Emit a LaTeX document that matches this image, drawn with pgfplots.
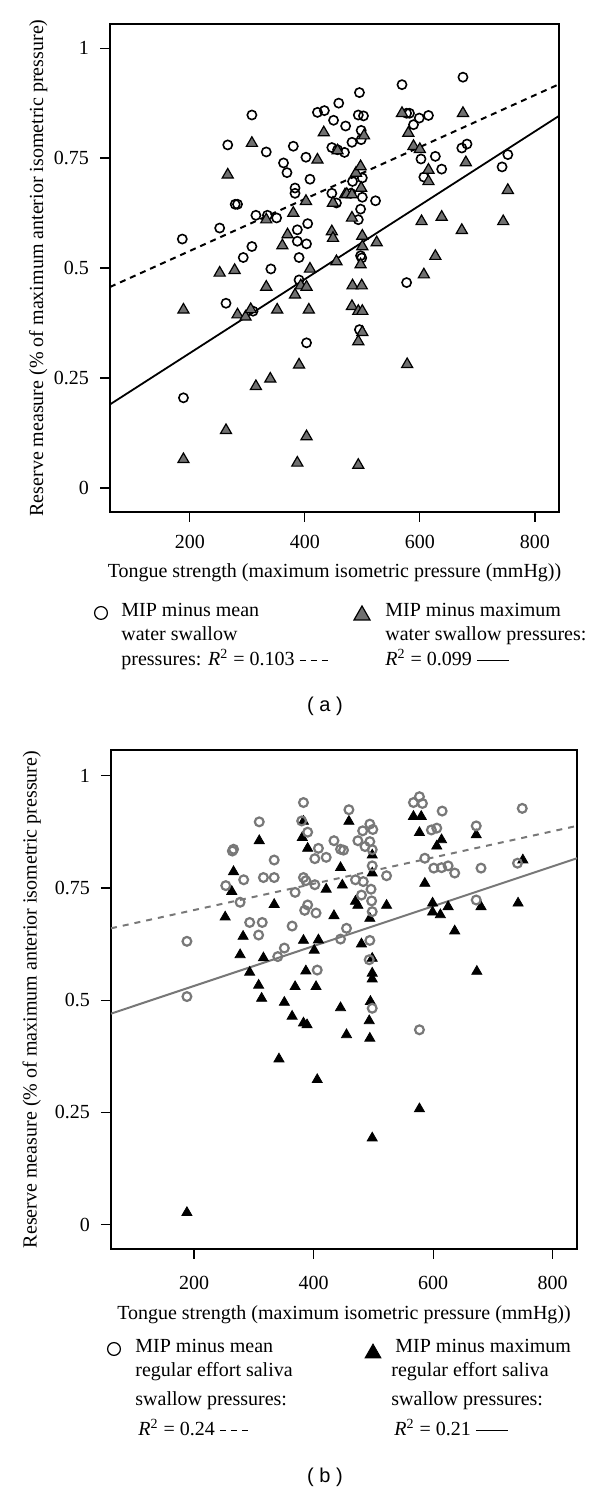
\documentclass[border=0pt]{standalone}
\usepackage{fontspec}
\setmainfont{Liberation Serif}
\newfontfamily\capfont{Liberation Sans}
\usepackage{pgfplots}
\usepackage{pgfplotstable}
\pgfplotsset{compat=1.18}
\definecolor{tgray}{RGB}{112,112,112}
\definecolor{bgray}{RGB}{120,120,120}

\pgfplotstableread{
x y
187 0.566
252 0.591
266 0.780
263 0.420
279 0.645
283 0.645
293 0.524
308 0.549
308 0.848
315 0.620
310 0.402
333 0.764
335 0.620
341 0.498
351 0.614
363 0.739
369 0.717
380 0.777
383 0.682
383 0.670
387 0.587
387 0.561
390 0.524
390 0.473
402 0.752
409 0.702
405 0.601
403 0.555
403 0.330
422 0.854
434 0.858
450 0.836
459 0.875
447 0.774
457 0.769
469 0.763
471 0.823
447 0.670
455 0.648
480 0.670
482 0.786
495 0.899
493 0.848
502 0.846
498 0.813
498 0.792
483 0.697
500 0.705
500 0.661
497 0.634
493 0.610
497 0.528
499 0.523
523 0.653
569 0.917
577 0.852
582 0.852
589 0.826
599 0.841
615 0.847
602 0.748
627 0.754
607 0.707
638 0.725
577 0.467
675 0.934
673 0.773
682 0.782
743 0.730
753 0.758
495 0.360
189 0.205
}\circA

\pgfplotstableread{
x y
189 0.405
252 0.489
278 0.495
266 0.712
308 0.784
283 0.394
297 0.389
306 0.406
333 0.457
333 0.610
352 0.405
361 0.551
370 0.576
380 0.625
383 0.439
393 0.460
403 0.457
407 0.405
402 0.652
409 0.498
422 0.746
433 0.808
447 0.583
449 0.568
455 0.515
449 0.648
457 0.767
470 0.667
473 0.668
482 0.614
482 0.667
489 0.716
497 0.731
498 0.682
500 0.573
500 0.549
497 0.508
483 0.460
499 0.460
482 0.413
493 0.402
500 0.402
500 0.354
493 0.333
525 0.558
503 0.801
569 0.852
580 0.807
589 0.777
600 0.770
615 0.723
615 0.697
603 0.606
638 0.616
627 0.527
607 0.485
675 0.852
680 0.740
673 0.586
745 0.606
753 0.677
578 0.281
390 0.280
340 0.248
315 0.231
263 0.131
403 0.117
189 0.065
387 0.057
493 0.052
}\triA

\pgfplotstableread{
x y
188 0.631
188 0.508
253 0.755
264 0.832
266 0.836
283 0.768
277 0.718
293 0.673
308 0.645
314 0.673
309 0.897
316 0.773
334 0.773
334 0.812
340 0.597
351 0.616
364 0.665
369 0.740
383 0.940
380 0.899
390 0.874
383 0.773
387 0.766
390 0.712
385 0.700
404 0.694
402 0.757
402 0.815
408 0.838
421 0.818
406 0.567
434 0.855
445 0.836
450 0.834
459 0.924
445 0.636
455 0.660
470 0.768
474 0.855
482 0.877
486 0.842
494 0.892
499 0.880
494 0.853
498 0.835
480 0.734
483 0.764
498 0.799
496 0.747
497 0.721
498 0.697
494 0.633
493 0.590
498 0.482
522 0.777
567 0.940
577 0.953
582 0.938
615 0.921
597 0.879
606 0.883
586 0.816
601 0.794
614 0.795
625 0.799
636 0.783
577 0.434
672 0.888
680 0.794
672 0.723
741 0.805
749 0.927
}\circB

\pgfplotstableread{
x y
188 0.027
252 0.685
263 0.742
266 0.786
282 0.642
277 0.601
293 0.562
308 0.533
313 0.504
316 0.594
309 0.855
334 0.713
342 0.369
351 0.495
364 0.464
369 0.530
383 0.449
389 0.445
387 0.565
383 0.633
381 0.862
390 0.838
383 0.898
401 0.611
408 0.634
404 0.530
406 0.323
421 0.747
434 0.688
445 0.795
448 0.756
445 0.483
455 0.423
459 0.898
470 0.720
474 0.711
480 0.625
494 0.682
495 0.497
493 0.454
494 0.415
498 0.823
498 0.783
498 0.593
498 0.560
498 0.547
498 0.193
522 0.711
567 0.909
580 0.909
577 0.873
586 0.760
599 0.716
599 0.696
612 0.690
625 0.708
606 0.843
614 0.857
636 0.654
577 0.258
672 0.868
680 0.708
673 0.564
742 0.716
750 0.812
}\triB

\pgfplotsset{
  panel/.style={
    scale only axis, anchor=south west,
    xmin=61.3, xmax=842, ymin=-0.0546, ymax=1.055,
    xtick={200,400,600,800}, xticklabels={200,400,600,800},
    ytick={0,0.25,0.5,0.75,1}, yticklabels={0,0.25,0.5,0.75,1},
    tick pos=left, tick align=outside, major tick length=5pt,
    axis line style={line width=0.65pt},
    every tick/.style={line width=0.65pt, black},
    ticklabel style={font=\fontsize{10}{12}\selectfont},
    yticklabel style={xshift=-2pt},
    label style={font=\fontsize{10}{12}\selectfont},
    xlabel={Tongue strength (maximum isometric pressure (mmHg))},
    ylabel={Reserve measure (\% of maximum anterior isometric pressure)},
  }
}

\newcommand{\dashsample}{\rule[0.55ex]{3pt}{0.5pt}\hspace{2.5pt}\rule[0.55ex]{3pt}{0.5pt}\hspace{2.5pt}\rule[0.55ex]{3pt}{0.5pt}}
\newcommand{\solidsample}{\rule[0.55ex]{16pt}{0.5pt}}

\begin{document}
\begin{tikzpicture}
\path[use as bounding box] (0,0) rectangle (300pt,746pt);

% ---------- panel (a)
\begin{axis}[panel, at={(55pt,490pt)}, width=224.5pt, height=244pt,
  xticklabel style={yshift=-3pt},
  xlabel style={at={(axis description cs:0.5,0)}, anchor=base, yshift=-33pt},
  ylabel style={at={(axis description cs:-0.160,0.5)}, anchor=center}]
\addplot[only marks, mark=o, mark size=2.3pt, mark options={line width=0.8pt, draw=black}] table {\circA};
\addplot[only marks, mark=triangle*, mark size=3.2pt, mark options={line width=0.6pt, draw=black, fill=tgray}] table {\triA};
\addplot[black, line width=1pt, dash pattern=on 3pt off 2.5pt] coordinates {(61.3,0.457) (842,0.918)};
\addplot[black, line width=0.9pt] coordinates {(61.3,0.190) (842,0.846)};
\end{axis}

% ---------- panel (b)
\begin{axis}[panel, at={(55.5pt,121.5pt)}, width=233pt, height=249.5pt,
  xmin=61, xmax=840.6, ymin=-0.054, ymax=1.057,
  xticklabel style={yshift=-5pt},
  xlabel style={at={(axis description cs:0.5,0)}, anchor=base, yshift=-35.5pt},
  ylabel style={at={(axis description cs:-0.170,0.5)}, anchor=center}]
\addplot[only marks, mark=triangle*, mark size=2.9pt, mark options={draw=black, fill=black}] table {\triB};
\addplot[only marks, mark=o, mark size=2.2pt, mark options={line width=1.1pt, draw=bgray}] table {\circB};
\addplot[bgray, line width=1pt, dash pattern=on 3pt off 3pt] coordinates {(61,0.660) (840.6,0.888)};
\addplot[bgray, line width=1pt] coordinates {(61,0.470) (840.6,0.816)};
\end{axis}

% ---------- legends (pixel coordinates)
\begin{scope}[x=0.5pt, y=-0.5pt, shift={(0,746pt)}]
\tikzset{lt/.style={anchor=base west, inner sep=0pt, font=\fontsize{10}{12}\selectfont}}
\draw[line width=0.6pt] (101,613) circle (3.2pt);
\node[lt] at (121,617) {MIP minus mean};
\node[lt] at (121,641) {water swallow};
\node[lt] at (121,666) {pressures: \textit{R}\textsuperscript{2} = 0.103 \dashsample};
\draw[line width=0.6pt, fill=tgray] (354,620) -- (370,620) -- (362,606) -- cycle;
\node[lt] at (385,617) {MIP minus maximum};
\node[lt] at (385,641) {water swallow pressures:};
\node[lt] at (385,666) {\textit{R}\textsuperscript{2} = 0.099 \solidsample};
\node[font=\capfont\fontsize{10}{12}\selectfont] at (325,706) {( a )};

\draw[line width=0.6pt] (114,1349) circle (3.2pt);
\node[lt] at (135,1353) {MIP minus mean};
\node[lt] at (135,1377) {regular effort saliva};
\node[lt] at (135,1406) {swallow pressures:};
\node[lt] at (138,1436) {\textit{R}\textsuperscript{2} = 0.24 \dashsample};
\draw[fill=black] (365,1358) -- (381,1358) -- (373,1344) -- cycle;
\node[lt] at (395,1353) {MIP minus maximum};
\node[lt] at (391,1377) {regular effort saliva};
\node[lt] at (391,1406) {swallow pressures:};
\node[lt] at (394,1436) {\textit{R}\textsuperscript{2} = 0.21 \solidsample};
\node[font=\capfont\fontsize{10}{12}\selectfont] at (325,1477) {( b )};
\end{scope}
\end{tikzpicture}
\end{document}
